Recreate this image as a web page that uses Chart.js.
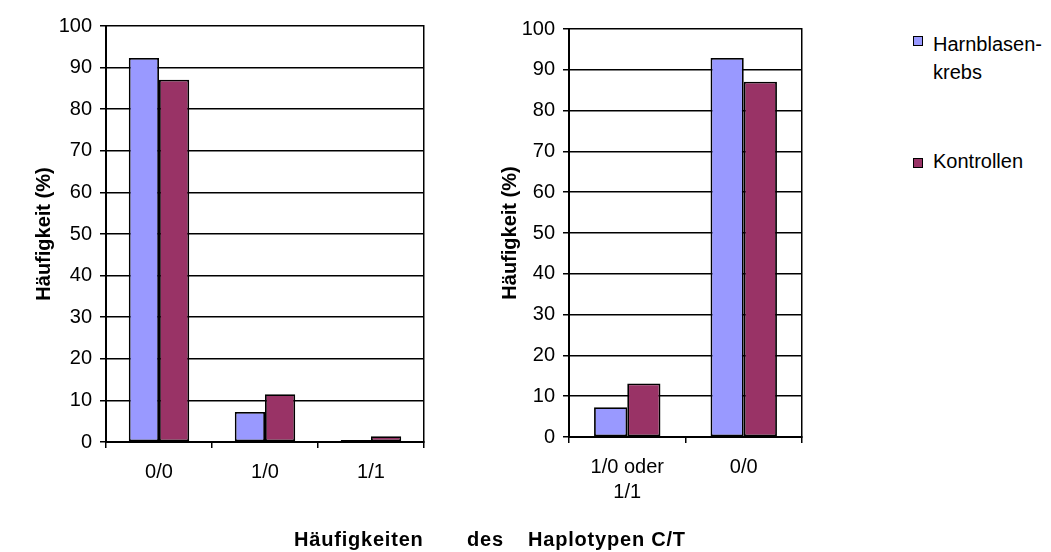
<!DOCTYPE html>
<html>
<head>
<meta charset="utf-8">
<script src="https://cdn.jsdelivr.net/npm/chart.js@4"></script>
<style>
  body { margin: 0; background: #fff; }
  #wrap { position: relative; width: 1051px; height: 552px; overflow: hidden;
          font-family: 'Liberation Sans', Arial, sans-serif; color: #000; }
  canvas { position: absolute; top: 0; }
  .t { position: absolute; white-space: pre; }
  .bold { font-weight: bold; font-size: 20px; letter-spacing: 0.8px; }
  .leg { font-size: 20px; line-height: 28px; }
  .sq { position: absolute; width: 8px; height: 8px; border: 1px solid #000; }
</style>
</head>
<body>
<div id="wrap">
  <canvas id="left" width="440" height="552" style="left:0;width:440px;height:552px"></canvas>
  <canvas id="right" width="360" height="552" style="left:450px;width:360px;height:552px"></canvas>

  <div class="sq" style="left:913px;top:36px;background:#9999FF"></div>
  <div class="t leg" style="left:933px;top:30px">Harnblasen-
krebs</div>
  <div class="sq" style="left:913px;top:158px;background:#993366"></div>
  <div class="t leg" style="left:933px;top:147px">Kontrollen</div>

  <div class="t bold" style="left:294px;top:528px">Häufigkeiten</div>
  <div class="t bold" style="left:467px;top:528px">des</div>
  <div class="t bold" style="left:528px;top:528px">Haplotypen C/T</div>
</div>
<script>
'use strict';
// Werte
const leftLabels = ['0/0', '1/0', '1/1'];
const leftKrebs = [92.3, 7.2, 0.5];
const leftKontrollen = [87.1, 11.5, 1.4];

const rightLabels = [['1/0 oder', '1/1'], '0/0'];
const rightKrebs = [7.3, 92.9];
const rightKontrollen = [13.1, 87.1];

const seriesNames = ['Harnblasen-krebs', 'Kontrollen'];
const yMin = 0, yMax = 100, yStep = 10;
const yTitle = 'Häufigkeit (%)';

const blue = '#9999FF';
const red = '#993366';
const font = { family: "'Liberation Sans', Arial, sans-serif", size: 20, lineHeight: 1.25 };

function makeChart(id, labels, krebs, kontrollen, box) {
  return new Chart(document.getElementById(id), {
    type: 'bar',
    data: {
      labels: labels,
      datasets: [
        { label: seriesNames[0], data: krebs, backgroundColor: blue,
          borderColor: '#000', borderWidth: 1.8, borderSkipped: false },
        { label: seriesNames[1], data: kontrollen, backgroundColor: red,
          borderColor: '#000', borderWidth: 1.8, borderSkipped: false },
      ],
    },
    options: {
      responsive: false,
      animation: false,
      events: [],
      categoryPercentage: 0.57,
      barPercentage: 1,
      layout: { padding: { top: box.top, right: box.right, left: 0, bottom: 0 } },
      plugins: { legend: { display: false }, tooltip: { enabled: false } },
      scales: {
        x: {
          grid: { offset: true, drawOnChartArea: false, drawTicks: true, tickLength: 6,
                  color: '#000', lineWidth: 1.5 },
          border: { color: '#000', width: 2 },
          ticks: { color: '#000', font: font, padding: 12, maxRotation: 0, autoSkip: false },
          afterFit: s => { s.height = box.xh; },
        },
        y: {
          min: yMin, max: yMax,
          grid: { color: '#000', lineWidth: 1.5, tickLength: 6 },
          border: { color: '#000', width: 2 },
          ticks: { stepSize: yStep, color: '#000', font: font, padding: 8 },
          title: { display: true, text: yTitle, color: '#000',
                   font: { family: font.family, size: 20, weight: 'bold' },
                   padding: { top: box.titlePad, bottom: 0 } },
          afterFit: s => { s.width = box.yw; },
        },
        y2: {
          position: 'right',
          grid: { drawOnChartArea: false, drawTicks: false },
          border: { color: '#000', width: 1.5 },
          ticks: { display: false },
          afterFit: s => { s.width = 0; },
        },
      },
    },
  });
}

makeChart('left', leftLabels, leftKrebs, leftKontrollen,
  { top: 26, right: 16, xh: 552 - 442, yw: 106, titlePad: 32 });
makeChart('right', rightLabels, rightKrebs, rightKontrollen,
  { top: 29, right: 8, xh: 552 - 437, yw: 119, titlePad: 48 });
</script>
</body>
</html>
